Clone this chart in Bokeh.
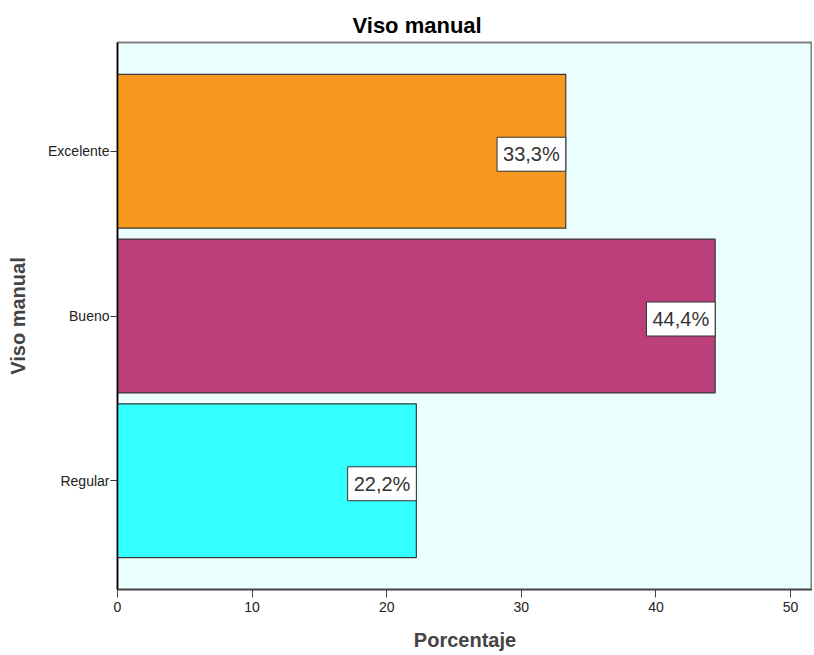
from bokeh.plotting import figure
from bokeh.models import ColumnDataSource, Label, Range1d, FixedTicker, Title
from bokeh.embed import file_html
from bokeh.resources import INLINE

categories = ["Regular", "Bueno", "Excelente"]
values = [22.2, 44.4, 33.3]
colors = ["#33FFFF", "#BA3F7A", "#F7991F"]
x_ticks = [0, 10, 20, 30, 40, 50]

labels = [f"{v:.1f}".replace(".", ",") + "%" for v in values]
pos = list(range(len(categories)))
src = ColumnDataSource(dict(pos=pos, cat=categories, val=values, col=colors, lab=labels))

FONT = "Liberation Sans"

p = figure(width=812, height=653, output_backend="svg", toolbar_location=None,
           y_range=Range1d(-0.66, len(categories) - 1 + 0.66),
           x_range=Range1d(0, 51.63),
           min_border_left=117, min_border_right=0, min_border_top=42, min_border_bottom=60)

p.hbar(y="pos", right="val", left=0, height=0.934, source=src, fill_color="col",
       line_color="#3a3a3a", line_width=1.2)

for i, v, t in zip(pos, values, labels):
    p.add_layout(Label(x=v, y=i, text=t, text_align="right", text_baseline="middle",
                       x_offset=0, y_offset=-3, text_font=FONT, text_font_size="20px",
                       text_color="#333333", background_fill_color="white",
                       border_line_color="#333333", border_line_width=1, padding=6))

p.background_fill_color = "#EBFFFF"
p.border_fill_color = "white"
p.outline_line_color = "#808080"
p.outline_line_width = 2
p.xgrid.visible = False
p.ygrid.visible = False

ttl = Title(text="Viso manual", align="left", offset=235, text_font=FONT,
            text_font_size="22px", text_font_style="bold", text_color="black")
p.add_layout(ttl, "above")

xa = p.xaxis[0]
xa.ticker = FixedTicker(ticks=x_ticks)
xa.axis_label = "Porcentaje"
xa.axis_label_text_font = FONT
xa.axis_label_text_font_size = "20px"
xa.axis_label_text_font_style = "bold"
xa.axis_label_standoff = 14
xa.major_label_text_font = FONT
xa.major_label_text_font_size = "14px"
xa.major_label_text_color = "#222222"
xa.major_label_standoff = 4
xa.major_tick_out = 8
xa.major_tick_in = 0
xa.minor_tick_out = 0
xa.minor_tick_in = 0
xa.axis_line_color = "#444444"
xa.axis_line_width = 1.5
xa.major_tick_line_color = "#444444"

ya = p.yaxis[0]
ya.ticker = FixedTicker(ticks=pos)
ya.major_label_overrides = {i: c for i, c in zip(pos, categories)}
ya.axis_label = "Viso manual"
ya.axis_label_text_font = FONT
ya.axis_label_text_font_size = "20px"
ya.axis_label_text_font_style = "bold"
ya.axis_label_standoff = 16
ya.major_label_text_font = FONT
ya.major_label_text_font_size = "14px"
ya.major_label_text_color = "#222222"
ya.major_tick_out = 7
ya.major_tick_in = 0
ya.minor_tick_out = 0
ya.minor_tick_in = 0
ya.axis_line_color = "black"
ya.axis_line_width = 1.5
ya.major_tick_line_color = "#333333"
ya.major_label_standoff = 1

open("out.html", "w").write(file_html(p, INLINE))
